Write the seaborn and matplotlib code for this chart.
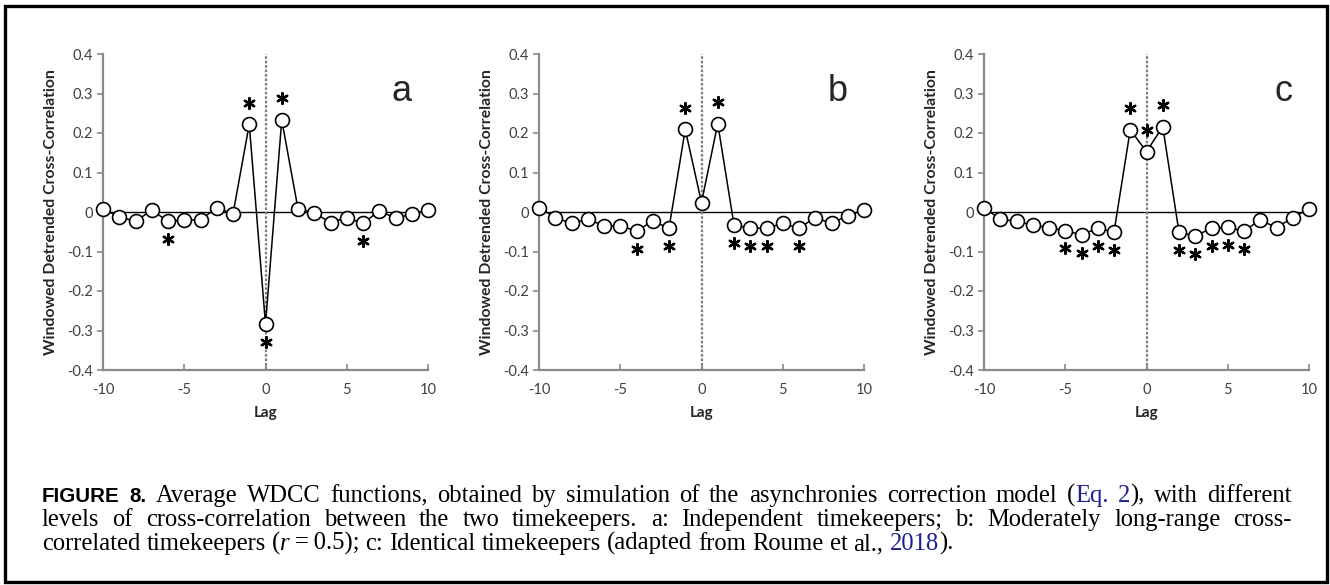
import numpy as np
import pandas as pd
import seaborn as sns
import matplotlib.pyplot as plt
from matplotlib.patches import Rectangle

# lags and average WDCC values
lags = list(range(-10, 11))
wdcc_a = [0.007, -0.012, -0.024, 0.005, -0.024, -0.020, -0.020, 0.011, -0.005, 0.222, -0.284,
          0.233, 0.008, -0.002, -0.027, -0.014, -0.029, 0.003, -0.016, -0.005, 0.005]
wdcc_b = [0.011, -0.014, -0.029, -0.018, -0.035, -0.035, -0.048, -0.023, -0.041, 0.209, 0.024,
          0.224, -0.033, -0.041, -0.041, -0.029, -0.041, -0.014, -0.029, -0.009, 0.005]
wdcc_c = [0.011, -0.018, -0.024, -0.033, -0.040, -0.047, -0.058, -0.041, -0.051, 0.208, 0.153,
          0.216, -0.051, -0.061, -0.041, -0.039, -0.048, -0.020, -0.040, -0.014, 0.008]

# lags marked significant (* above or below the point)
stars_above_a = [-1, 1]
stars_below_a = [-6, 0, 6]
stars_above_b = [-1, 1]
stars_below_b = [-4, -2, 2, 3, 4, 6]
stars_above_c = [-1, 0, 1]
stars_below_c = [-5, -4, -3, -2, 2, 3, 4, 5, 6]

panel_letters = ['a', 'b', 'c']
yticks = [0.4, 0.3, 0.2, 0.1, 0, -0.1, -0.2, -0.3, -0.4]
ytick_labels = ['0.4', '0.3', '0.2', '0.1', '0', '-0.1', '-0.2', '-0.3', '-0.4']
xticks = [-10, -5, 0, 5, 10]
xtick_labels = ['-10', '-5', '0', '5', '10']

sns.set_style('white')
plt.rcParams['font.family'] = ['Lato', 'DejaVu Sans']

W, H = 1330, 585
fig = plt.figure(figsize=(W / 100, H / 100), dpi=100)

panels = [(wdcc_a, stars_above_a, stars_below_a),
          (wdcc_b, stars_above_b, stars_below_b),
          (wdcc_c, stars_above_c, stars_below_c)]
lefts = [103, 539, 984]
axis_grey = '#8a8a8a'

for i, (vals, above, below) in enumerate(panels):
    ax = fig.add_axes([lefts[i] / W, 1 - 370 / H, 325 / W, 316 / H])
    df = pd.DataFrame({'Lag': lags, 'WDCC': vals})

    ax.axhline(0, color='black', lw=1, zorder=1)
    ax.plot([0, 0], [-0.4, 0.4], color='#808080', lw=1.6, ls=(0, (1.2, 0.8)), zorder=1)

    sns.lineplot(data=df, x='Lag', y='WDCC', ax=ax, color='black', lw=1.1, marker='o',
                 markersize=10, markerfacecolor='white', markeredgecolor='black',
                 markeredgewidth=1.2, zorder=3)
    ax.lines[-1].set_clip_on(False)

    star_df = pd.concat([
        df[df['Lag'].isin(above)].assign(star=lambda d: d['WDCC'] + 0.055),
        df[df['Lag'].isin(below)].assign(star=lambda d: d['WDCC'] - 0.045),
    ])
    sns.scatterplot(data=star_df, x='Lag', y='star', ax=ax, marker=(6, 2, 0), s=60,
                    color='black', linewidth=1.7, zorder=4)

    ax.text(8.4, 0.304, panel_letters[i], fontsize=26, ha='center', va='center',
            family='Liberation Sans')

    ax.set_xlim(-10, 10)
    ax.set_ylim(-0.4, 0.4)
    ax.set_xticks(xticks)
    ax.set_xticklabels(xtick_labels)
    ax.set_yticks(yticks)
    ax.set_yticklabels(ytick_labels)
    ax.tick_params(axis='y', direction='out', length=4, width=1.2, color=axis_grey,
                   labelsize=10.5, labelcolor='#404040', pad=3, left=True)
    ax.tick_params(axis='x', direction='in', length=4, width=1.2, color=axis_grey,
                   labelsize=10.5, labelcolor='#404040', pad=9, bottom=True)
    for s in ['top', 'right']:
        ax.spines[s].set_visible(False)
    for s in ['left', 'bottom']:
        ax.spines[s].set_color(axis_grey)
        ax.spines[s].set_linewidth(1.6)
    ax.set_xlabel('Lag', fontsize=11, fontweight='bold', labelpad=7)
    ax.set_ylabel('Windowed Detrended Cross-Correlation', fontsize=11.3, fontweight='bold',
                  labelpad=7)

# outer frame
fig.patches.append(Rectangle((5 / W, 1 - 582 / H), 1322 / W, 576 / H, transform=fig.transFigure,
                             fill=False, edgecolor='black', lw=2.4))

# caption, justified like the journal layout
serif = dict(family='Liberation Serif', fontsize=17.7, color='black')
bold = dict(family='Liberation Sans', fontsize=14.8, fontweight='bold', color='black')
blue = dict(serif, color='#1f1f8f')
ital = dict(serif, style='italic')

cap_lines = [
    [[('FIGURE', bold)], [('8.', bold)], [('Average', serif)], [('WDCC', serif)],
     [('functions,', serif)], [('obtained', serif)], [('by', serif)], [('simulation', serif)],
     [('of', serif)], [('the', serif)], [('asynchronies', serif)], [('correction', serif)],
     [('model', serif)], [('(', serif), ('Eq.', blue)], [('2', blue), ('),', serif)],
     [('with', serif)], [('different', serif)]],
    [[(w, serif)] for w in 'levels of cross-correlation between the two timekeepers. a: Independent '
     'timekeepers; b: Moderately long-range cross-'.split()],
    [[('correlated', serif)], [('timekeepers', serif)],
     [('(', serif), ('r', ital), ('\u2009=\u20090.5);', serif)],
     [('c:', serif)], [('Identical', serif)], [('timekeepers', serif)], [('(adapted', serif)],
     [('from', serif)], [('Roume', serif)], [('et', serif)], [('al.,', serif)],
     [('2018', blue), (').', serif)]],
]
justify = [True, True, False]
baselines = [502, 526, 550]
x0, x1 = 42, 1292

renderer = fig.canvas.get_renderer()
probe = fig.text(0, 0, 'a a', **serif)
probe2 = fig.text(0, 0, 'aa', **serif)
space_w = probe.get_window_extent(renderer).width - probe2.get_window_extent(renderer).width
probe.remove()
probe2.remove()

for line, just, yb in zip(cap_lines, justify, baselines):
    items = []
    for word in line:
        segs = []
        for txt, props in word:
            t = fig.text(0, 1 - yb / H, txt, va='baseline', ha='left', **props)
            segs.append((t, t.get_window_extent(renderer).width))
        items.append(segs)
    total = sum(w for segs in items for _, w in segs)
    gap = (x1 - x0 - total) / (len(items) - 1) if just else space_w
    x = x0
    for segs in items:
        for t, w in segs:
            t.set_x(x / W)
            x += w
        x += gap

fig.savefig('out.png', dpi=100)
